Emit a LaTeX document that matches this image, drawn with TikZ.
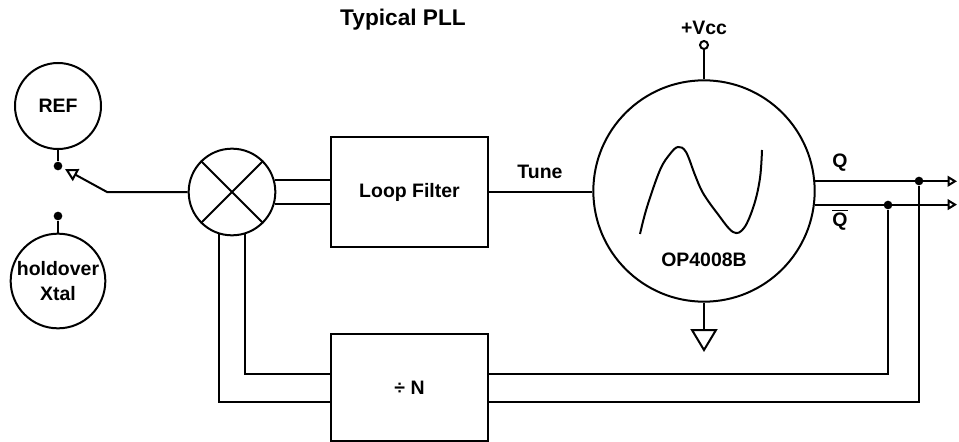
\documentclass[tikz,border=0pt]{standalone}
\usepackage{fontspec}
\setmainfont{Liberation Sans}
\usetikzlibrary{arrows.meta,calc}
\newcommand{\Qbar}{{\setbox0\hbox{Q}\rlap{\rule[\dimexpr\ht0+1.2pt\relax]{\wd0}{1.3pt}}Q}}
\begin{document}
\begin{tikzpicture}[x=0.75pt,y=-0.75pt, line width=1.5pt,
  font=\fontsize{14.6}{18.5}\selectfont\bfseries,
  blk/.style={draw, rectangle, inner sep=0pt},
  ring/.style={draw, circle, inner sep=0pt},
  dotc/.style={circle, fill, inner sep=0pt, minimum size=6.5pt},
  pin/.style={circle, draw, fill=white, inner sep=0pt, minimum size=6pt},
  outarrow/.style={-{Triangle[open, length=7pt, width=8pt]}},
  swarrow/.style={-{Triangle[open, length=9.5pt, width=10pt]}}]
\useasboundingbox (0,0) rectangle (959,442);
% title
\node (title) at (403,20) {\fontsize{17}{20}\selectfont Typical PLL};
% reference sources and switch
\node[ring, minimum size=64.5pt] (ref) at (58,106) {REF};
\node[dotc] (sw1) at (58,166) {};
\node[dotc] (sw2) at (58,216) {};
\node[ring, minimum size=71pt, align=center] (hold) at (58,281) {holdover\\Xtal};
\draw (ref.south) -- (sw1);
\draw (sw2) -- (hold.north);
% mixer
\node[ring, minimum size=65pt] (mix) at (232,192) {};
\draw (mix.45) -- (mix.225) (mix.135) -- (mix.315);
\coordinate (elbow) at (107,192);
\coordinate (tip) at (65,169);
\draw[swarrow] (mix.west) -- (elbow) -- (tip);
% loop filter
\node[blk, minimum width=117.75pt, minimum height=82.5pt] (lf) at (409.5,192) {Loop Filter};
\draw (mix.16) -- (mix.16 -| lf.west);
\draw (mix.-16) -- (mix.-16 -| lf.west);
% VCO
\node[ring, minimum size=166pt] (vco) at (704,191) {};
\node (vcolbl) at (704,260) {OP4008B};
\draw (lf.east) -- (lf.east -| vco.west);
\node (tune) at (540,172) {Tune};
\node[pin] (vccpin) at (704,45) {};
\draw (vco.north) -- (vccpin);
\node (vcc) at (704,28) {+Vcc};
\coordinate (gnd) at (704,330);
\draw (vco.south) -- (gnd);
\draw ($(gnd)+(-12,0)$) -- ($(gnd)+(12,0)$) -- ($(gnd)+(0,20)$) -- cycle;
\draw[line width=1.5pt] plot[smooth, tension=0.6] coordinates {(640,234) (647,207) (660,170) (670,154) (678,147) (686,152) (695,175) (703,193) (717,213) (733,232) (744,228) (754,205) (760,178) (762,150)};
% outputs
\coordinate (qend) at (957,181);
\draw[outarrow] (vco.5) -- (vco.5 -| qend);
\draw[outarrow] (vco.-7) -- (vco.-7 -| qend);
\node (qlbl) at (840,163) {Q};
\node (qblbl) at (840,220) {\Qbar};
\node[dotc] (qd) at (919,181) {};
\node[dotc] (qbd) at (888,205) {};
% divider
\node[blk, minimum width=117.75pt, minimum height=80.25pt] (div) at (409.5,387.5) {÷ N};
\coordinate (lo) at (0,402);
\coordinate (li) at (0,374);
\draw (mix.-107) |- (div.west |- lo);
\draw (mix.-73) |- (div.west |- li);
\draw (div.east |- lo) -| (qd);
\draw (div.east |- li) -| (qbd);
\end{tikzpicture}
\end{document}
